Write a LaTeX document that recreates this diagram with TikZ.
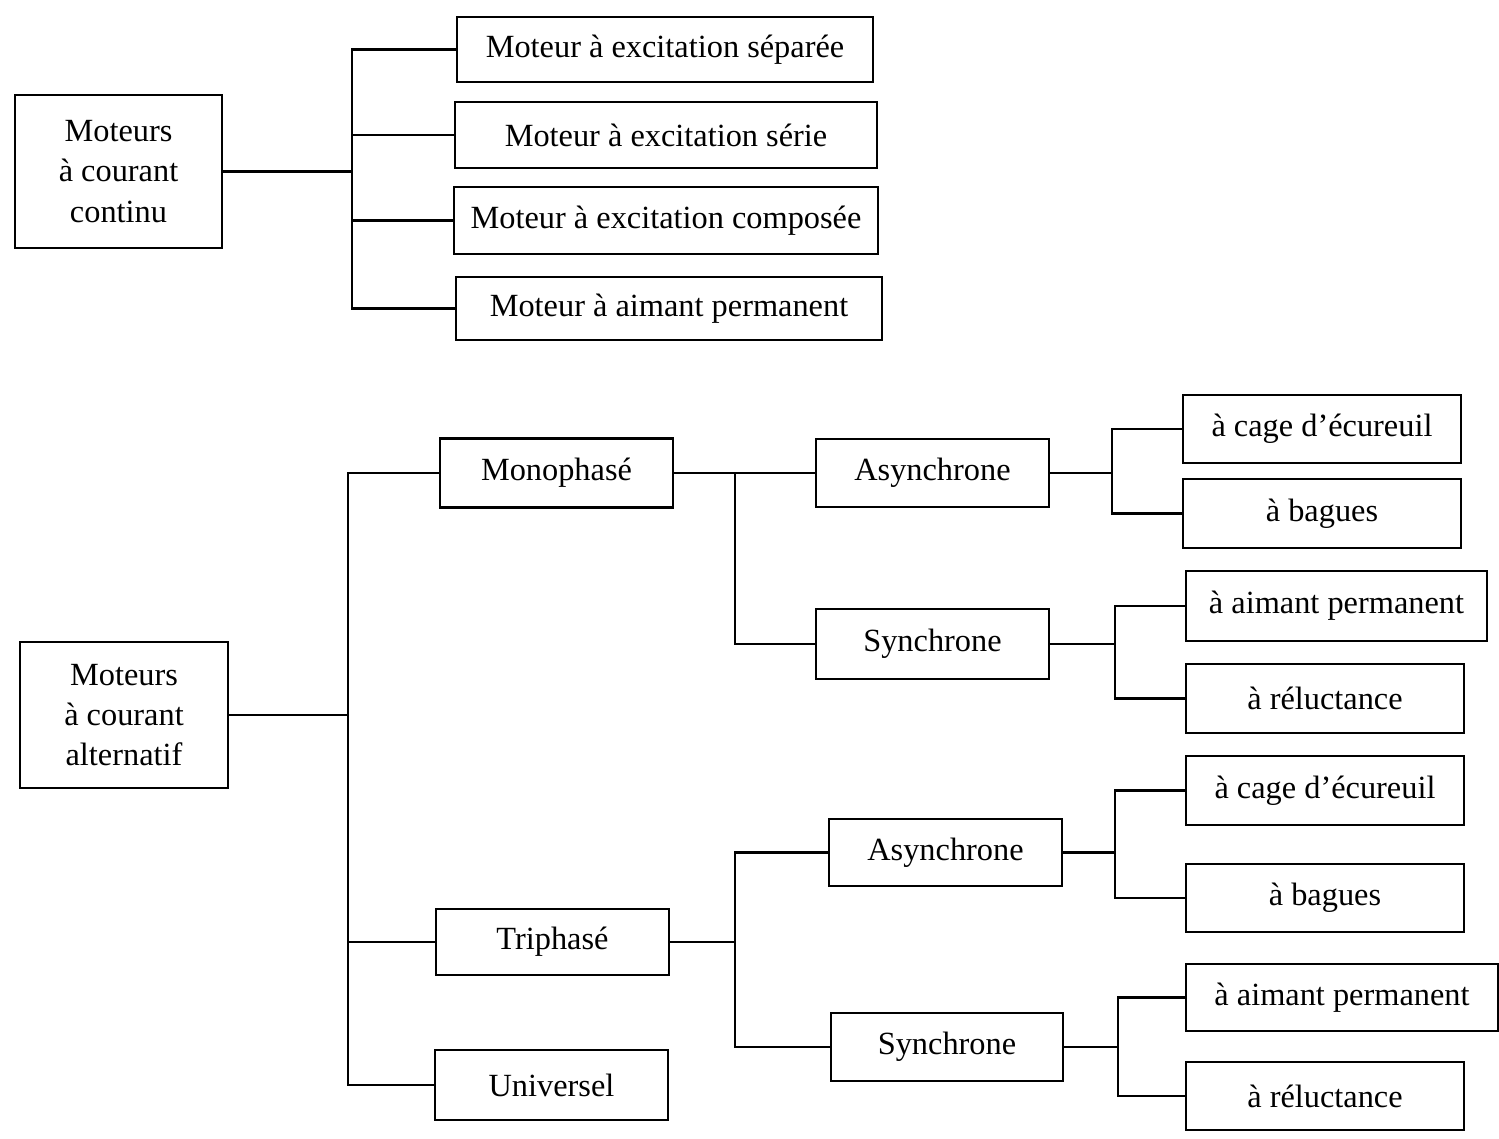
\documentclass[tikz,border=0pt]{standalone}
\usepackage{fontspec}
\setmainfont{Liberation Serif}
\begin{document}
\begin{tikzpicture}[x=0.01cm,y=-0.01cm,
  box/.style={draw,line width=0.7pt,inner sep=0pt,align=center,font=\fontsize{9.2}{11.4}\selectfont},
  conn/.style={line width=0.7pt,line cap=rect,line join=miter}]
\useasboundingbox (0,0) rectangle (1499,1138);
% top section
\node[box,minimum width=2.07cm,minimum height=1.53cm] (c1) at (118.5,171.5) {Moteurs\\à courant\\continu};
\node[box,minimum width=4.16cm,minimum height=0.65cm] (d1) at (665,49.5) {Moteur à excitation séparée};
\node[box,minimum width=4.22cm,minimum height=0.66cm] (d2) at (666,135) {Moteur à excitation série};
\node[box,minimum width=4.24cm,minimum height=0.67cm] (d3) at (666,220.5) {Moteur à excitation composée};
\node[box,minimum width=4.26cm,minimum height=0.63cm] (d4) at (669,308.5) {Moteur à aimant permanent};
\coordinate (jc) at (352,0);
\draw[conn] (c1.east) -- (jc |- c1.east);
\draw[conn] (d1.west) -- (jc |- d1.west) -- (jc |- d4.west) -- (d4.west);
\foreach \n in {d2,d3} \draw[conn] (jc |- \n.west) -- (\n.west);
% bottom section
\node[box,minimum width=2.08cm,minimum height=1.46cm] (a1) at (124,715) {Moteurs\\à courant\\alternatif};
\node[box,minimum width=2.33cm,minimum height=0.69cm] (m) at (556.5,473) {Monophasé};
\node[box,minimum width=2.33cm,minimum height=0.66cm] (t) at (552.5,942) {Triphasé};
\node[box,minimum width=2.33cm,minimum height=0.70cm] (u) at (551.5,1085) {Universel};
\coordinate (ja) at (348,0);
\draw[conn] (a1.east) -- (ja |- a1.east);
\draw[conn] (m.west) -- (ja |- m.west) -- (ja |- u.west) -- (u.west);
\draw[conn] (ja |- t.west) -- (t.west);
% second level
\node[box,minimum width=2.33cm,minimum height=0.68cm] (as1) at (932.5,473) {Asynchrone};
\node[box,minimum width=2.33cm,minimum height=0.70cm] (sy1) at (932.5,644) {Synchrone};
\node[box,minimum width=2.33cm,minimum height=0.67cm] (as2) at (945.5,852.5) {Asynchrone};
\node[box,minimum width=2.32cm,minimum height=0.68cm] (sy2) at (947,1047) {Synchrone};
\coordinate (jm) at (735,0);
\draw[conn] (m.east) -- (jm |- m.east) -- (jm |- sy1.west) -- (sy1.west);
\draw[conn] (jm |- as1.west) -- (as1.west);
\coordinate (jt) at (735,0);
\draw[conn] (as2.west) -- (jt |- as2.west) -- (jt |- sy2.west) -- (sy2.west);
\draw[conn] (t.east) -- (jt |- t.east);
% leaves
\node[box,minimum width=2.78cm,minimum height=0.68cm] (l1) at (1322,429) {à cage d’écureuil};
\node[box,minimum width=2.78cm,minimum height=0.69cm] (l2) at (1322,513.5) {à bagues};
\node[box,minimum width=3.01cm,minimum height=0.70cm] (l3) at (1336.5,606) {à aimant permanent};
\node[box,minimum width=2.78cm,minimum height=0.69cm] (l4) at (1325,698.5) {à réluctance};
\node[box,minimum width=2.78cm,minimum height=0.69cm] (l5) at (1325,790.5) {à cage d’écureuil};
\node[box,minimum width=2.78cm,minimum height=0.68cm] (l6) at (1325,898) {à bagues};
\node[box,minimum width=3.12cm,minimum height=0.67cm] (l7) at (1342,997.5) {à aimant permanent};
\node[box,minimum width=2.78cm,minimum height=0.68cm] (l8) at (1325,1096) {à réluctance};
\coordinate (k1) at (1112,0);
\draw[conn] (as1.east) -- (k1 |- as1.east);
\draw[conn] (l1.west) -- (k1 |- l1.west) -- (k1 |- l2.west) -- (l2.west);
\coordinate (k2) at (1115,0);
\draw[conn] (sy1.east) -- (k2 |- sy1.east);
\draw[conn] (l3.west) -- (k2 |- l3.west) -- (k2 |- l4.west) -- (l4.west);
\coordinate (k3) at (1115,0);
\draw[conn] (as2.east) -- (k3 |- as2.east);
\draw[conn] (l5.west) -- (k3 |- l5.west) -- (k3 |- l6.west) -- (l6.west);
\coordinate (k4) at (1118,0);
\draw[conn] (sy2.east) -- (k4 |- sy2.east);
\draw[conn] (l7.west) -- (k4 |- l7.west) -- (k4 |- l8.west) -- (l8.west);
\end{tikzpicture}
\end{document}
